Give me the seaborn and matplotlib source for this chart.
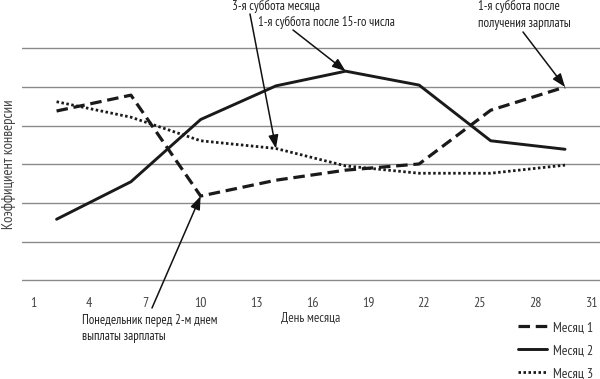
import pandas as pd
import seaborn as sns
import matplotlib.pyplot as plt
from matplotlib.lines import Line2D

# days of the month where the points sit
days = [2.25, 6.25, 10.0, 14.05, 17.8, 21.75, 25.6, 29.6]
month1 = [4.38, 4.79, 2.18, 2.59, 2.85, 3.01, 4.40, 5.00]
month2 = [1.58, 2.55, 4.16, 5.03, 5.41, 5.05, 3.61, 3.39]
month3 = [4.62, 4.22, 3.61, 3.41, 2.96, 2.77, 2.77, 2.98]
series_names = ['Месяц 1', 'Месяц 2', 'Месяц 3']
xticks = [1, 4, 7, 10, 13, 16, 19, 22, 25, 28, 31]

df = pd.DataFrame({
    'day': days * 3,
    'value': month1 + month2 + month3,
    'series': [s for s in series_names for _ in days],
})

sns.set_style('white')
plt.rcParams['font.family'] = ['PT Sans Narrow', 'DejaVu Sans']

fig = plt.figure(figsize=(6, 3.79), dpi=100)
ax = fig.add_axes([0.0367, 0.2501, 0.9633, 0.6325])

# horizontal guide lines
for yv in range(7):
    ax.axhline(yv, color='#8a8a8a', lw=1.0, zorder=0)

line_styles = {'Месяц 1': (0, (3.6, 1.8)), 'Месяц 2': '-', 'Месяц 3': (0, (0.9, 0.9))}
widths = {'Месяц 1': 2.3, 'Месяц 2': 2.1, 'Месяц 3': 2.0}
for name in series_names:
    sub = df[df['series'] == name]
    sns.lineplot(data=sub, x='day', y='value', ax=ax, color='#1a1a1a',
                 lw=widths[name], legend=False, linestyle=line_styles[name])

ax.set_xlim(0.392, 31.48)
ax.set_ylim(-0.1, 6.1)
for s in ax.spines.values():
    s.set_visible(False)
ax.set_yticks([])
ax.set_xticks(xticks)
ax.set_xticklabels([str(t) for t in xticks], color='#444444', fontsize=10)
ax.tick_params(axis='x', length=0, pad=9)
ax.set_xlabel('День месяца', color='#333333', fontsize=9.5, labelpad=1)
ax.set_ylabel('Коэффициент конверсии', color='#444444', fontsize=10.5, labelpad=4)

tc = '#222222'
fig.text(232 / 600, 1 - 0 / 379, '3-я суббота месяца', ha='left', va='top', color=tc, fontsize=9.3)
fig.text(258 / 600, 1 - 16 / 379, '1-я суббота после 15-го числа', ha='left', va='top',
         color=tc, fontsize=9.2)
fig.text(478 / 600, 1 - 0 / 379, '1-я суббота после\nполучения зарплаты', ha='left', va='top',
         color=tc, fontsize=9.3, linespacing=1.35)
fig.text(82 / 600, 1 - 314 / 379, 'Понедельник перед 2-м днем\nвыплаты зарплаты', ha='left', va='top',
         color=tc, fontsize=9.2, linespacing=1.3)

# arrows (start points in figure pixels, targets on data points)
arrow = dict(arrowstyle='-|>,head_length=0.8,head_width=0.3', color='#111111', lw=1.1,
             shrinkA=0, shrinkB=0)
ax.annotate('', xy=(days[3], month3[3]), xytext=(250, 379 - 14),
            textcoords='figure pixels', arrowprops=arrow)
ax.annotate('', xy=(days[4], month2[4]), xytext=(293, 379 - 30),
            textcoords='figure pixels', arrowprops=arrow)
ax.annotate('', xy=(days[7], month1[7]), xytext=(523, 379 - 32),
            textcoords='figure pixels', arrowprops=arrow)
ax.annotate('', xy=(days[2], month1[2]), xytext=(152, 379 - 308),
            textcoords='figure pixels', arrowprops=arrow)

handles = [Line2D([], [], color='#1a1a1a', lw=widths[n], linestyle=line_styles[n])
           for n in series_names]
fig.legend(handles, series_names, loc='upper left', bbox_to_anchor=(511 / 600, 1 - 314 / 379),
           frameon=False, fontsize=10, handlelength=2.1, handletextpad=0.45,
           labelspacing=0.72, labelcolor='#333333', borderpad=0)

fig.savefig('out.png', dpi=100)
